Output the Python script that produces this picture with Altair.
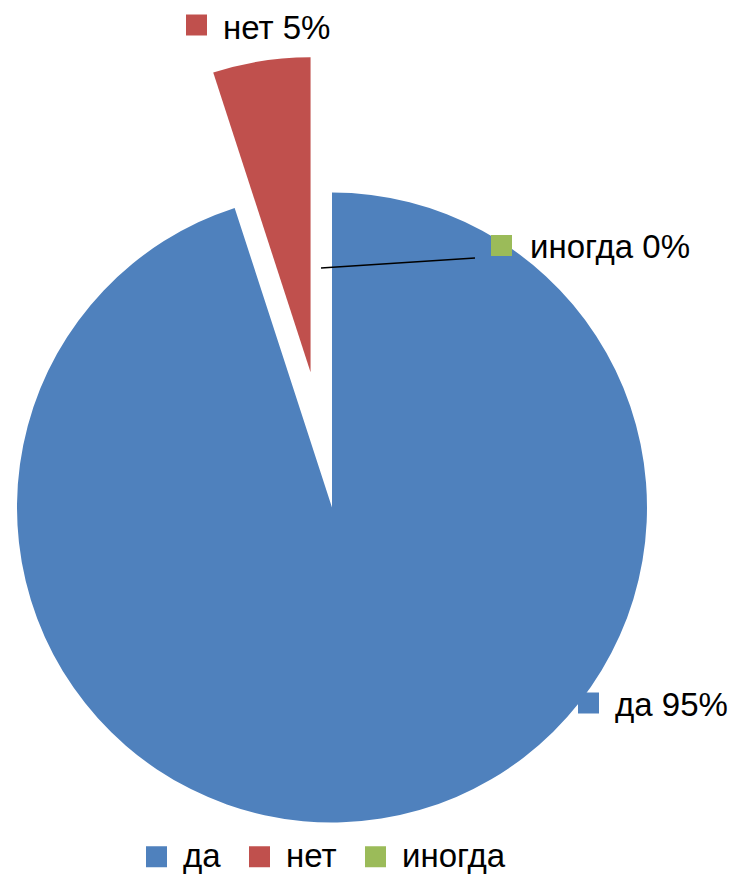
import altair as alt
import pandas as pd

# ---- data ----
categories = ["да", "нет", "иногда"]
values = [95, 5, 0]
label_texts = ["да 95%", "нет 5%", "иногда 0%"]
colors = ["#4F81BD", "#C0504D", "#9BBB59"]
order = [0, 1, 2]

df = pd.DataFrame({"category": categories, "value": values,
                   "label": label_texts, "order": order})

# ---- layout ----
CX, CY, R = 324, 499.5, 315
EXPLODE_PX = 137
FONT = "Liberation Sans"
FS = 33
# label anchor layout: (square center x, y, text x, text baseline y)
label_layout = {
    "да": (580.5, 695, 607, 708),
    "нет": (188.5, 17, 215, 31),
    "иногда": (493.5, 237.5, 522, 250),
}

color = alt.Color(
    "category:N",
    scale=alt.Scale(domain=categories, range=colors),
    sort=categories,
    legend=alt.Legend(
        title=None, orient="none", legendX=132, legendY=832,
        direction="horizontal", symbolType="square", symbolSize=441,
        symbolStrokeWidth=0, labelFont=FONT, labelFontSize=FS,
        labelColor="black", labelOffset=10, columnPadding=22,
    ),
)

arcs = (
    alt.Chart(df)
    .transform_window(cum="sum(value)", sort=[alt.SortField("order")], frame=[None, 0])
    .transform_calculate(start="datum.cum - datum.value")
    .transform_calculate(mid="(datum.cum - datum.value/2)/100*2*PI")
    .transform_calculate(off=f"datum.category == 'нет' ? {EXPLODE_PX} : 0")
    .transform_calculate(px=f"{CX} + datum.off*sin(datum.mid)")
    .transform_calculate(py=f"{CY} - datum.off*cos(datum.mid)")
    .mark_arc(outerRadius=R)
    .encode(
        theta=alt.Theta("start:Q", scale=alt.Scale(domain=[0, 100])),
        theta2="cum:Q",
        x=alt.X("px:Q", scale=None),
        y=alt.Y("py:Q", scale=None),
        color=color,
    )
)

layers = [arcs]
for cat in categories:
    sx, sy, tx, ty = label_layout[cat]
    base = alt.Chart(df).transform_filter(alt.datum.category == cat)
    sq = base.mark_square(size=441, opacity=1).encode(
        x=alt.value(sx), y=alt.value(sy), color=color
    )
    tx_layer = base.mark_text(
        align="left", baseline="alphabetic", font=FONT, fontSize=FS, color="black"
    ).encode(x=alt.value(tx), y=alt.value(ty), text="label:N")
    layers += [sq, tx_layer]

leader = alt.Chart(df).transform_filter(alt.datum.category == "иногда").mark_rule(
    color="black", strokeWidth=1.5
).encode(x=alt.value(313), y=alt.value(260), x2=alt.value(467), y2=alt.value(250))
layers.append(leader)

chart = (
    alt.layer(*layers)
    .properties(width=723, height=867, autosize=alt.AutoSizeParams(type="none"), padding=0)
    .configure_view(stroke=None)
)

chart.save("out.html", embed_options={"renderer": "svg", "actions": False})
